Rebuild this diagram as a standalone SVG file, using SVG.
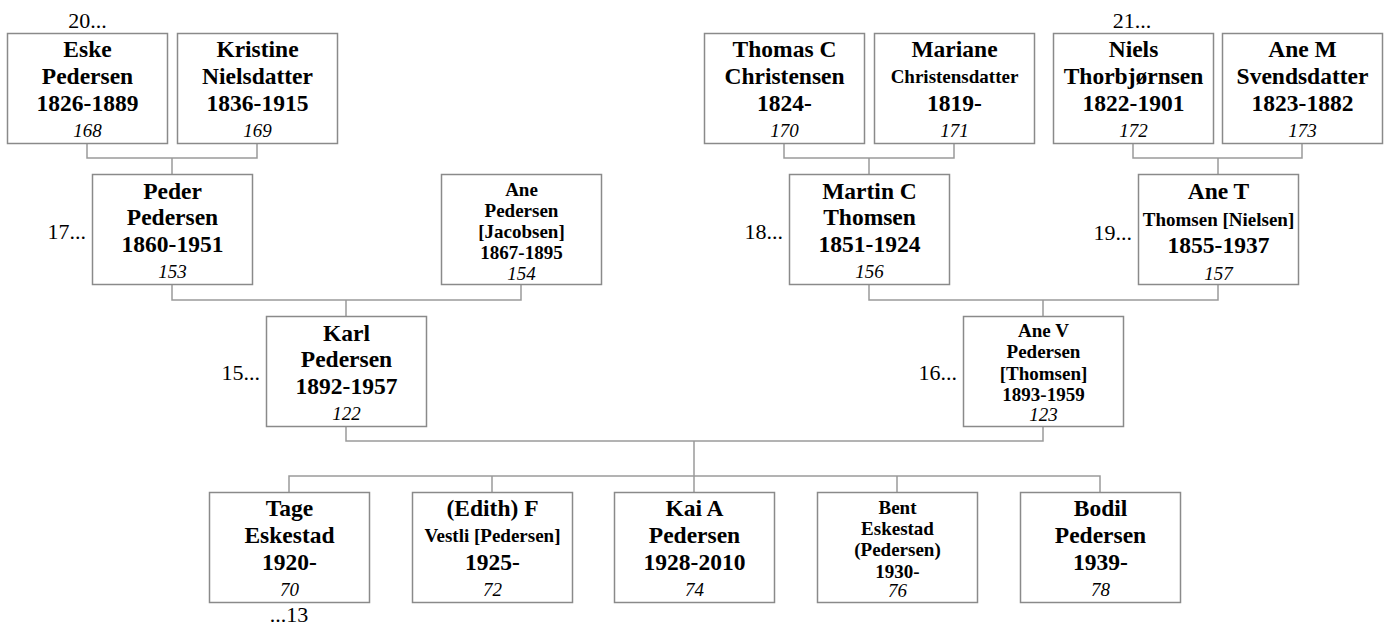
<svg xmlns="http://www.w3.org/2000/svg" width="1388" height="627" viewBox="0 0 1388 627">
<style>
.box{fill:#fff;stroke:#8a8a8a;stroke-width:1.5}
.con{fill:none;stroke:#9a9a9a;stroke-width:1.5}
text{font-family:"Liberation Serif","Times New Roman",serif;fill:#000;text-anchor:middle}
.b{font-weight:bold;font-size:23.5px}
.s{font-weight:bold;font-size:19px}
.n{font-style:italic;font-size:19px}
.lab{font-size:22px}
.r{text-anchor:end}
</style>
<rect width="1388" height="627" fill="#fff"/>
<g id="connectors">
<path class="con" d="M87,143V158H257V143M172,158V174"/>
<path class="con" d="M784,143V158H954V143M869,158V174"/>
<path class="con" d="M1133,143V158H1302V143M1218,158V174"/>
<path class="con" d="M172,284V300H521V284M346,300V316"/>
<path class="con" d="M869,284V300H1218V284M1043,300V316"/>
<path class="con" d="M346,426V441H1043V426M694,441V476"/>
<path class="con" d="M289,492V476H1100V492M492,476V492M694,476V492M897,476V492"/>
</g>
<g id="eske"><rect class="box" x="7.5" y="33.5" width="160" height="110"/>
<text x="87.5" y="57" class="b">Eske</text><text x="87.5" y="84" class="b">Pedersen</text><text x="87.5" y="111" class="b">1826-1889</text><text x="87.5" y="137" class="n">168</text>
<text x="87.5" y="28" class="lab">20...</text></g>
<g id="kristine"><rect class="box" x="177.5" y="33.5" width="160" height="110"/>
<text x="257.5" y="57" class="b">Kristine</text><text x="257.5" y="84" class="b">Nielsdatter</text><text x="257.5" y="111" class="b">1836-1915</text><text x="257.5" y="137" class="n">169</text></g>
<g id="thomas"><rect class="box" x="704.5" y="33.5" width="160" height="110"/>
<text x="784.5" y="57" class="b">Thomas C</text><text x="784.5" y="84" class="b">Christensen</text><text x="784.5" y="111" class="b">1824-</text><text x="784.5" y="137" class="n">170</text></g>
<g id="mariane"><rect class="box" x="874.5" y="33.5" width="160" height="110"/>
<text x="954.5" y="57" class="b">Mariane</text><text x="954.5" y="83" class="s">Christensdatter</text><text x="954.5" y="111" class="b">1819-</text><text x="954.5" y="137" class="n">171</text></g>
<g id="niels"><rect class="box" x="1053.5" y="33.5" width="160" height="110"/>
<text x="1133.5" y="57" class="b">Niels</text><text x="1133.5" y="84" class="b">Thorbjørnsen</text><text x="1133.5" y="111" class="b">1822-1901</text><text x="1133.5" y="137" class="n">172</text>
<text x="1132" y="28" class="lab">21...</text></g>
<g id="anem"><rect class="box" x="1222.5" y="33.5" width="160" height="110"/>
<text x="1302.5" y="57" class="b">Ane M</text><text x="1302.5" y="84" class="b">Svendsdatter</text><text x="1302.5" y="111" class="b">1823-1882</text><text x="1302.5" y="137" class="n">173</text></g>
<g id="peder"><rect class="box" x="92.5" y="174.5" width="160" height="110"/>
<text x="172.5" y="199" class="b">Peder</text><text x="172.5" y="225" class="b">Pedersen</text><text x="172.5" y="252" class="b">1860-1951</text><text x="172.5" y="278" class="n">153</text>
<text x="86" y="239" class="lab r">17...</text></g>
<g id="anej"><rect class="box" x="441.5" y="174.5" width="160" height="110"/>
<text x="521.5" y="196" class="s">Ane</text><text x="521.5" y="217" class="s">Pedersen</text><text x="521.5" y="238" class="s">[Jacobsen]</text><text x="521.5" y="259" class="s">1867-1895</text><text x="521.5" y="280" class="n">154</text></g>
<g id="martin"><rect class="box" x="789.5" y="174.5" width="160" height="110"/>
<text x="869.5" y="199" class="b">Martin C</text><text x="869.5" y="225" class="b">Thomsen</text><text x="869.5" y="252" class="b">1851-1924</text><text x="869.5" y="278" class="n">156</text>
<text x="783" y="239" class="lab r">18...</text></g>
<g id="anet"><rect class="box" x="1138.5" y="174.5" width="160" height="110"/>
<text x="1218.5" y="199" class="b">Ane T</text><text x="1218.5" y="226" class="s">Thomsen [Nielsen]</text><text x="1218.5" y="253" class="b">1855-1937</text><text x="1218.5" y="280" class="n">157</text>
<text x="1132" y="240" class="lab r">19...</text></g>
<g id="karl"><rect class="box" x="266.5" y="316.5" width="160" height="110"/>
<text x="346.5" y="341" class="b">Karl</text><text x="346.5" y="367" class="b">Pedersen</text><text x="346.5" y="394" class="b">1892-1957</text><text x="346.5" y="420" class="n">122</text>
<text x="260" y="380" class="lab r">15...</text></g>
<g id="anev"><rect class="box" x="963.5" y="316.5" width="160" height="110"/>
<text x="1043.5" y="337" class="s">Ane V</text><text x="1043.5" y="358" class="s">Pedersen</text><text x="1043.5" y="380" class="s">[Thomsen]</text><text x="1043.5" y="401" class="s">1893-1959</text><text x="1043.5" y="421" class="n">123</text>
<text x="957" y="380" class="lab r">16...</text></g>
<g id="tage"><rect class="box" x="209.5" y="492.5" width="160" height="110"/>
<text x="289.5" y="516" class="b">Tage</text><text x="289.5" y="543" class="b">Eskestad</text><text x="289.5" y="570" class="b">1920-</text><text x="289.5" y="596" class="n">70</text>
<text x="289" y="622" class="lab">...13</text></g>
<g id="edith"><rect class="box" x="412.5" y="492.5" width="160" height="110"/>
<text x="492.5" y="516" class="b">(Edith) F</text><text x="492.5" y="542" class="s">Vestli [Pedersen]</text><text x="492.5" y="570" class="b">1925-</text><text x="492.5" y="596" class="n">72</text></g>
<g id="kai"><rect class="box" x="614.5" y="492.5" width="160" height="110"/>
<text x="694.5" y="516" class="b">Kai A</text><text x="694.5" y="543" class="b">Pedersen</text><text x="694.5" y="570" class="b">1928-2010</text><text x="694.5" y="596" class="n">74</text></g>
<g id="bent"><rect class="box" x="817.5" y="492.5" width="160" height="110"/>
<text x="897.5" y="514" class="s">Bent</text><text x="897.5" y="535" class="s">Eskestad</text><text x="897.5" y="556" class="s">(Pedersen)</text><text x="897.5" y="578" class="s">1930-</text><text x="897.5" y="597" class="n">76</text></g>
<g id="bodil"><rect class="box" x="1020.5" y="492.5" width="160" height="110"/>
<text x="1100.5" y="516" class="b">Bodil</text><text x="1100.5" y="543" class="b">Pedersen</text><text x="1100.5" y="570" class="b">1939-</text><text x="1100.5" y="596" class="n">78</text></g>
</svg>
